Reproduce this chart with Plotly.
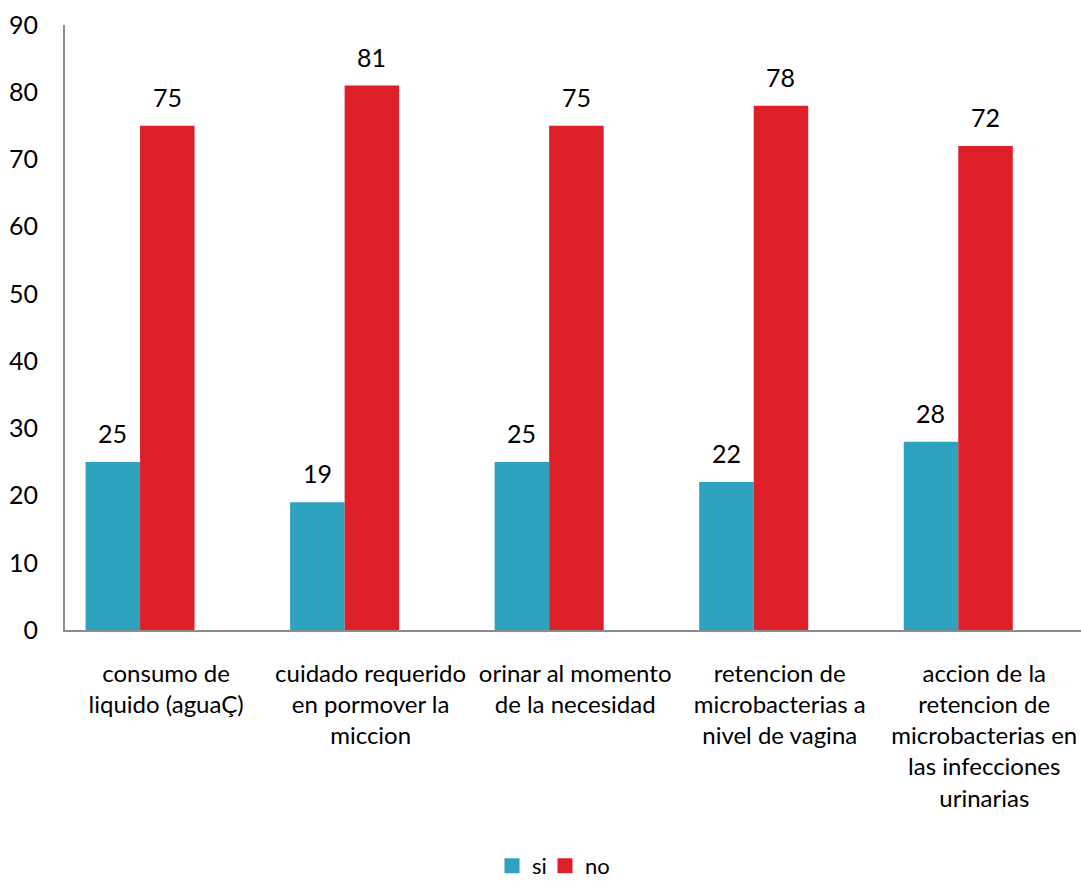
import plotly.graph_objects as go

categories = [
    "consumo de<br>liquido (aguaÇ)",
    "cuidado requerido<br>en pormover la<br>miccion",
    "orinar al momento<br>de la necesidad",
    "retencion de<br>microbacterias a<br>nivel de vagina",
    "accion de la<br>retencion de<br>microbacterias en<br>las infecciones<br>urinarias",
]
si_values = [25, 19, 25, 22, 28]
no_values = [75, 81, 75, 78, 72]
y_ticks = [0, 10, 20, 30, 40, 50, 60, 70, 80, 90]

SI_COLOR = "#2EA3BF"
NO_COLOR = "#DC1F29"
FONT = "Lato"
FS = 24

idx = list(range(len(categories)))

fig = go.Figure()
fig.add_trace(go.Bar(name="si", x=idx, y=si_values, showlegend=False,
                     marker=dict(color=SI_COLOR, line=dict(width=0))))
fig.add_trace(go.Bar(name="no", x=idx, y=no_values, showlegend=False,
                     marker=dict(color=NO_COLOR, line=dict(width=0))))

# legend entries with larger square swatches, one legend box per entry
for name, color, leg in (("si", SI_COLOR, "legend"), ("no", NO_COLOR, "legend2")):
    fig.add_trace(go.Scatter(
        x=[None], y=[None], name=name, mode="markers", legend=leg,
        marker=dict(symbol="square", size=15, color=color),
    ))

# value labels above each bar
for series, shift in ((si_values, -27.5), (no_values, 27)):
    for i, v in enumerate(series):
        fig.add_annotation(
            x=i, y=v, text=str(v), showarrow=False,
            xshift=shift, yshift=12, yanchor="bottom",
            font=dict(family=FONT, size=25, color="#000000"),
        )

legend_common = dict(
    orientation="h", xref="container", xanchor="left",
    y=-0.39, yref="paper", yanchor="middle",
    font=dict(family=FONT, size=22), itemwidth=30,
    bgcolor="rgba(0,0,0,0)",
)

fig.update_layout(
    width=1081, height=881,
    margin=dict(l=65, r=0, t=25, b=251, autoexpand=False),
    paper_bgcolor="white", plot_bgcolor="white",
    barmode="group", bargap=0.467, bargroupgap=0,
    font=dict(family=FONT, size=FS, color="#000000"),
    showlegend=True,
    legend=dict(x=492 / 1081, **legend_common),
    legend2=dict(x=545 / 1081, **legend_common),
)
fig.update_xaxes(
    tickmode="array", tickvals=idx, ticktext=categories,
    range=[-0.367, 4.6], showgrid=False, zeroline=False,
    showline=True, linecolor="#8C8C8C", linewidth=2,
    ticks="", ticklabelshift=26, ticklabelstandoff=21, automargin=False,
    ticklabeloverflow="allow",
    tickfont=dict(family=FONT, size=FS, color="#000000"),
)
fig.update_yaxes(
    range=[0, 90], tickvals=y_ticks, showgrid=False, zeroline=False,
    showline=True, linecolor="#8C8C8C", linewidth=2,
    ticks="", ticklabelstandoff=20, automargin=False,
    tickfont=dict(family=FONT, size=25, color="#000000"),
)

fig.write_html("out.html")
